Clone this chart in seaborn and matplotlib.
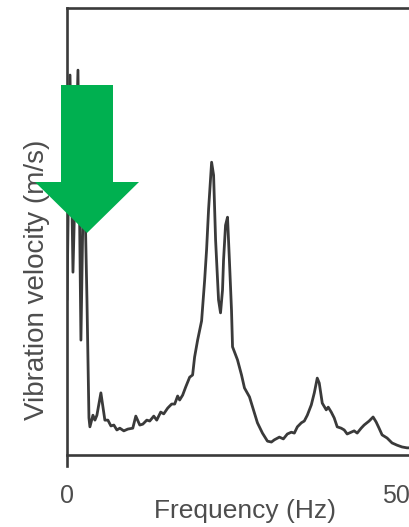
import matplotlib
matplotlib.use("Agg")
import matplotlib.pyplot as plt
from matplotlib.patches import Polygon
import seaborn as sns
import pandas as pd

# Vibration velocity spectrum (arbitrary units) against frequency (Hz)
frequency_hz = [
    0.00, 0.44, 0.87, 1.60, 2.03, 2.47, 2.91, 3.20, 3.34, 3.78, 4.07, 4.36, 4.94,
    5.52, 5.96, 6.40, 6.83, 7.27, 7.70, 8.28, 8.87, 9.59, 10.03, 10.61, 11.05,
    11.63, 12.06, 12.65, 13.08, 13.66, 14.10, 14.68, 15.26, 15.70, 16.13, 16.42,
    16.86, 17.30, 17.88, 18.31, 18.60, 19.04, 19.62, 20.06, 20.35, 20.64,
    21.08, 21.37, 21.66, 22.09, 22.38, 22.67, 22.82, 23.11, 23.40, 23.69, 23.98,
    24.13, 24.85, 25.44, 25.87, 26.60, 27.18, 27.76, 28.49, 29.22, 29.80, 30.23,
    30.96, 31.54, 32.12, 32.70, 33.14, 33.58, 34.16, 34.59, 35.03, 35.61, 36.05,
    36.48, 36.77, 37.21, 37.79, 38.08, 38.52, 38.95, 39.39, 39.97, 40.41, 40.84,
    41.42, 41.86, 42.30, 42.88, 43.31, 44.04, 44.62, 45.06, 45.49, 45.93, 46.66,
    47.38, 48.11, 48.84, 49.56, 50.00,
]
velocity = [
    3.47, 8.50, 4.09, 8.61, 2.57, 6.82, 3.47, 0.83, 0.63, 0.89, 0.78, 0.89, 1.39,
    0.78, 0.78, 0.65, 0.67, 0.56, 0.60, 0.54, 0.58, 0.60, 0.87, 0.67, 0.69,
    0.78, 0.76, 0.87, 0.78, 0.96, 0.92, 1.05, 1.14, 1.14, 1.32, 1.23,
    1.34, 1.52, 1.74, 1.79, 2.19, 2.57, 3.00, 3.90, 4.60, 5.50,
    6.55, 6.26, 4.81, 3.47, 3.18, 3.69, 4.36, 5.14, 5.32, 4.30, 3.24,
    2.42, 2.13, 1.79, 1.50, 1.30, 1.01, 0.72, 0.49, 0.31, 0.29, 0.34,
    0.40, 0.36, 0.47, 0.51, 0.49, 0.63, 0.72, 0.76, 0.89, 1.12, 1.39,
    1.72, 1.61, 1.16, 1.01, 1.07, 0.96, 0.83, 0.63, 0.60, 0.56, 0.47,
    0.51, 0.54, 0.49, 0.60, 0.67, 0.76, 0.85, 0.74, 0.60, 0.45, 0.38,
    0.27, 0.22, 0.18, 0.16, 0.16,
]
tick_positions = [0, 5, 10, 15, 20, 25, 30, 35, 40, 45, 50]
tick_labels = ["0", "", "", "", "", "", "", "", "", "", "50"]

sns.set_style("white")
plt.rcParams["font.family"] = ["Liberation Sans", "DejaVu Sans"]

ink = "#3a3a3a"
text_col = "#4d4d4d"

W, H = 410, 527
fig = plt.figure(figsize=(W / 100, H / 100), dpi=100)
ax = fig.add_axes([67 / W, (H - 455) / H, (W - 67) / W, (455 - 8) / H])

df = pd.DataFrame({"Frequency": frequency_hz, "Velocity": velocity})
sns.lineplot(data=df, x="Frequency", y="Velocity", ax=ax, color=ink,
             linewidth=2.0, estimator=None, sort=False)

ax.set_xlim(0, 50 * (W - 67) / (411 - 67))
ax.set_ylim(0, 10)
ax.set_xticks(tick_positions)
ax.set_xticklabels(tick_labels)
ax.set_yticks([])
ax.set_xlabel("")
ax.set_ylabel("")
ax.tick_params(axis="x", direction="out", length=6, width=1.6, color=ink,
               pad=15, labelsize=18, labelcolor=text_col)
for lbl in ax.get_xticklabels():
    if lbl.get_text() == "50":
        lbl.set_horizontalalignment("right")

for side in ("left", "top", "bottom"):
    ax.spines[side].set_visible(True)
    ax.spines[side].set_color(ink)
    ax.spines[side].set_linewidth(1.9)
ax.spines["right"].set_visible(False)
ax.spines["left"].set_bounds(-0.25, 10)

fig.text(245 / W, 1 - 511 / H, "Frequency (Hz)", ha="center", va="center",
         fontsize=19, color=text_col)
fig.text(37 / W, 1 - 280 / H, "Vibration velocity (m/s)", rotation=90,
         ha="center", va="center", fontsize=20, color=text_col)

# Downward green arrow
arrow_px = [(61, 85), (113, 85), (113, 182), (139, 182), (87, 233),
            (35, 182), (61, 182)]
arrow = Polygon([(x / W, 1 - y / H) for x, y in arrow_px], closed=True,
                transform=fig.transFigure, facecolor="#00b050", edgecolor="none",
                zorder=10)
fig.patches.append(arrow)

fig.savefig("out.png", dpi=100)
